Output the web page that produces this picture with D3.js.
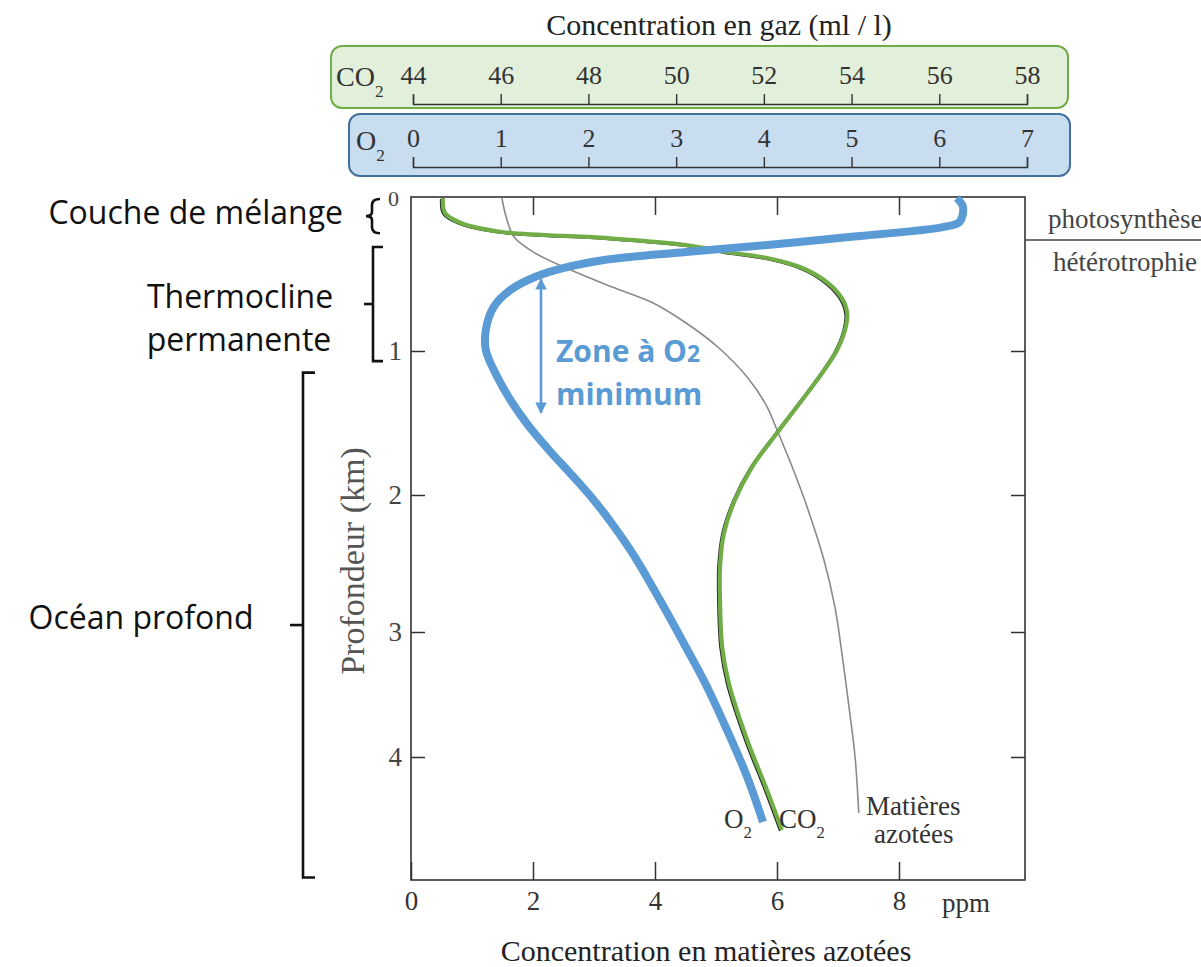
<!DOCTYPE html>
<html><head><meta charset="utf-8">
<script src="https://cdn.jsdelivr.net/npm/d3@7"></script>
<style>body{margin:0;background:#fff}</style>
</head><body><svg id="c" width="1201" height="967"></svg>
<script>
// ---- data ----
const co2Ticks = [44, 46, 48, 50, 52, 54, 56, 58];
const o2Ticks = [0, 1, 2, 3, 4, 5, 6, 7];
const ppmTicks = [0, 2, 4, 6, 8];
const depthTicks = [0, 1, 2, 3, 4];

// CO2 (ml/l) vs depth (km)
const co2Depth  = [0, 0.098, 0.163, 0.222, 0.261, 0.307, 0.353, 0.392, 0.451, 0.536, 0.647, 0.752, 0.863, 0.993, 1.153, 1.361, 1.569, 1.806, 2.036, 2.277, 2.526, 2.766, 3.12, 3.408, 3.864, 4.268, 4.593];
const co2Values = [44.68, 44.73, 45.09, 46.03, 48.35, 50.22, 51.14, 52.07, 52.82, 53.37, 53.76, 53.90, 53.85, 53.67, 53.33, 52.82, 52.30, 51.73, 51.34, 51.09, 51.00, 51.00, 51.05, 51.20, 51.62, 52.07, 52.41];

// O2 (ml/l) vs depth (km)
const o2Depth  = [0, 0.059, 0.157, 0.190, 0.255, 0.307, 0.353, 0.405, 0.458, 0.516, 0.601, 0.712, 0.863, 0.993, 1.167, 1.340, 1.514, 1.688, 1.861, 2.036, 2.219, 2.453, 2.818, 3.12, 3.408, 3.784, 4.163, 4.528];
const o2Values = [6.20, 6.27, 6.23, 6.04, 4.97, 4.04, 3.11, 2.18, 1.71, 1.39, 1.11, 0.92, 0.83, 0.83, 0.95, 1.11, 1.31, 1.55, 1.81, 2.06, 2.28, 2.53, 2.86, 3.11, 3.33, 3.58, 3.81, 3.99];

// Matières azotées (ppm) vs depth (km)
const nDepth  = [0, 0.124, 0.255, 0.359, 0.471, 0.582, 0.686, 0.817, 0.974, 1.181, 1.389, 1.528, 1.806, 2.109, 2.474, 2.818, 3.12, 3.6, 4.0, 4.455];
const nValues = [1.49, 1.56, 1.69, 2.03, 2.62, 3.30, 3.97, 4.51, 5.03, 5.51, 5.84, 5.98, 6.25, 6.51, 6.77, 6.95, 7.05, 7.18, 7.28, 7.34];

// ocean layers (km)
const layerNames = ["Couche de mélange", "Thermocline|permanente", "Océan profond"];
const layerTop = [0, 0.32, 1.15];
const layerBottom = [0.23, 1.07, 4.98];
const zoneLabel = ["Zone à O", "2", "minimum"];
const zoneRange = [0.53, 1.43];

// ---- drawing ----
const svg = d3.select("#c");
const serif = "'Liberation Serif','Times New Roman',serif";
const sans = "'Open Sans','Noto Sans',sans-serif";
const blue = "#5b9bd5", green = "#70ad47";
const fmt = d3.format("d");

const x = d3.scaleLinear().domain([0, 10]).range([411, 1021]);
const y = d3.scaleLinear().domain([0, 1, 2, 3, 4, 5]).range([198, 351, 495, 632, 757, 880]);
const xCO2 = d3.scaleLinear().domain([44, 58]).range([413, 1027]);
const xO2 = d3.scaleLinear().domain([0, 7]).range([413, 1027]);

const frame = {l: 411, t: 197, r: 1025, b: 880};

// gas boxes
svg.append("rect").attr("x", 331).attr("y", 46).attr("width", 737).attr("height", 62)
  .attr("rx", 11).attr("fill", "#e2efda").attr("stroke", green).attr("stroke-width", 2);
svg.append("rect").attr("x", 349).attr("y", 114).attr("width", 721).attr("height", 62)
  .attr("rx", 11).attr("fill", "#c8ddf0").attr("stroke", "#41719c").attr("stroke-width", 2);

svg.append("text").attr("x", 719).attr("y", 35).attr("text-anchor", "middle")
  .attr("font-family", serif).attr("font-size", 30).attr("fill", "#222")
  .text("Concentration en gaz (ml / l)");

function gasAxis(scale, ticks, yPos) {
  const g = svg.append("g").attr("transform", `translate(0,${yPos})`)
    .call(d3.axisTop(scale).tickValues(ticks).tickFormat(fmt).tickSize(10).tickSizeOuter(10).tickPadding(10));
  g.selectAll("path,line").attr("stroke", "#333").attr("stroke-width", 1.4);
  g.selectAll("text").attr("font-family", serif).attr("font-size", 26).attr("fill", "#333");
  return g;
}
gasAxis(xCO2, co2Ticks, 104);
gasAxis(xO2, o2Ticks, 167);

function chem(xp, yp, main, size, color) {
  const t = svg.append("text").attr("x", xp).attr("y", yp)
    .attr("font-family", serif).attr("font-size", size).attr("fill", color);
  t.append("tspan").text(main);
  t.append("tspan").attr("font-size", size * 0.62).attr("dy", size * 0.38).text("2");
  return t;
}
chem(336, 86, "CO", 28, "#333");
chem(356, 150, "O", 28, "#333");

// frame
svg.append("rect").attr("x", frame.l).attr("y", frame.t)
  .attr("width", frame.r - frame.l).attr("height", frame.b - frame.t)
  .attr("fill", "none").attr("stroke", "#333").attr("stroke-width", 1.6);

// bottom axis
const gb = svg.append("g").attr("transform", `translate(0,${frame.b})`)
  .call(d3.axisBottom(x).tickValues(ppmTicks).tickFormat(fmt).tickSize(-18).tickPadding(11));
gb.select(".domain").remove();
gb.selectAll("line").attr("stroke", "#333").attr("stroke-width", 1.5);
gb.selectAll("text").attr("font-family", serif).attr("font-size", 27).attr("fill", "#333");
svg.append("text").attr("x", 942).attr("y", 912).attr("font-family", serif)
  .attr("font-size", 27).attr("fill", "#333").text("ppm");
svg.append("text").attr("x", 706).attr("y", 961).attr("text-anchor", "middle")
  .attr("font-family", serif).attr("font-size", 30).attr("fill", "#222")
  .text("Concentration en matières azotées");

// top axis ticks (inside)
const gt = svg.append("g").attr("transform", `translate(0,${frame.t})`)
  .call(d3.axisTop(x).tickValues(ppmTicks.filter(d => d > 0)).tickSize(-18).tickFormat(""));
gt.select(".domain").remove();
gt.selectAll("line").attr("stroke", "#333").attr("stroke-width", 1.5);

// left depth axis
const gl = svg.append("g").attr("transform", `translate(${frame.l},0)`)
  .call(d3.axisLeft(y).tickValues(depthTicks).tickFormat(fmt).tickSize(-14).tickPadding(9));
gl.select(".domain").remove();
gl.selectAll("line").attr("stroke", "#333").attr("stroke-width", 1.5);
gl.selectAll("text").attr("font-family", serif).attr("font-size", 27).attr("fill", "#444");
gl.selectAll(".tick").filter(d => d === 0).select("text").attr("font-size", 22).attr("dy", "0.35em").attr("x", -12);
gl.selectAll(".tick").filter(d => d === 0).select("line").remove();

// right axis ticks
const gr = svg.append("g").attr("transform", `translate(${frame.r},0)`)
  .call(d3.axisRight(y).tickValues(depthTicks.filter(d => d > 0)).tickSize(-14).tickFormat(""));
gr.select(".domain").remove();
gr.selectAll("line").attr("stroke", "#333").attr("stroke-width", 1.5);

svg.append("text").attr("transform", `translate(364,561) rotate(-90)`)
  .attr("text-anchor", "middle").attr("font-family", serif).attr("font-size", 34)
  .attr("fill", "#555").text("Profondeur (km)");

// photosynthèse / hétérotrophie
svg.append("line").attr("x1", frame.r).attr("x2", 1201).attr("y1", 240).attr("y2", 240)
  .attr("stroke", "#444").attr("stroke-width", 1.4);
svg.append("text").attr("x", 1048).attr("y", 228).attr("font-family", serif)
  .attr("font-size", 27).attr("fill", "#444").text("photosynthèse");
svg.append("text").attr("x", 1053).attr("y", 271).attr("font-family", serif)
  .attr("font-size", 27).attr("fill", "#444").text("hétérotrophie");

// curves
const curve = d3.curveCatmullRom.alpha(0.5);
const lineN = d3.line().x((d, i) => x(nValues[i])).y((d, i) => y(d)).curve(curve);
const lineCO2 = d3.line().x((d, i) => xCO2(co2Values[i])).y((d, i) => y(d)).curve(curve);
const lineO2 = d3.line().x((d, i) => xO2(o2Values[i])).y((d, i) => y(d)).curve(curve);

svg.append("path").attr("d", lineN(nDepth)).attr("fill", "none")
  .attr("stroke", "#8a8a8a").attr("stroke-width", 1.6);
svg.append("path").attr("d", lineCO2(co2Depth)).attr("fill", "none")
  .attr("transform", "translate(-2,1)").attr("stroke", "#222").attr("stroke-width", 1.8);
svg.append("path").attr("d", lineCO2(co2Depth)).attr("fill", "none")
  .attr("stroke", green).attr("stroke-width", 4.2).attr("stroke-linecap", "butt");
svg.append("path").attr("d", lineO2(o2Depth)).attr("fill", "none")
  .attr("stroke", blue).attr("stroke-width", 8).attr("stroke-linecap", "butt")
  .attr("stroke-linejoin", "round");

// curve labels
chem(724, 828, "O", 27, "#333");
chem(779, 828, "CO", 27, "#333");
svg.append("text").attr("x", 866).attr("y", 815).attr("font-family", serif)
  .attr("font-size", 27).attr("fill", "#333").text("Matières");
svg.append("text").attr("x", 874).attr("y", 843).attr("font-family", serif)
  .attr("font-size", 27).attr("fill", "#333").text("azotées");

// zone à O2 minimum
const defs = svg.append("defs");
defs.append("marker").attr("id", "ah").attr("viewBox", "0 0 10 10").attr("refX", 9).attr("refY", 5)
  .attr("markerWidth", 5).attr("markerHeight", 4.4).attr("orient", "auto-start-reverse")
  .attr("markerUnits", "strokeWidth")
  .append("path").attr("d", "M0,0L10,5L0,10Z").attr("fill", blue);
svg.append("line").attr("x1", 541).attr("x2", 541).attr("y1", y(zoneRange[0])).attr("y2", y(zoneRange[1]))
  .attr("stroke", blue).attr("stroke-width", 2.6)
  .attr("marker-start", "url(#ah)").attr("marker-end", "url(#ah)");
const zt = svg.append("text").attr("x", 556).attr("y", 362).attr("font-family", sans)
  .attr("font-weight", 700).attr("font-size", 30).attr("fill", blue);
zt.append("tspan").text(zoneLabel[0]);
zt.append("tspan").attr("font-size", 23).text(zoneLabel[1]);
svg.append("text").attr("x", 556).attr("y", 405).attr("font-family", sans)
  .attr("font-weight", 700).attr("font-size", 30).attr("fill", blue).text(zoneLabel[2]);

// layer labels + brackets
const bk = svg.append("g").attr("fill", "none").attr("stroke", "#111").attr("stroke-width", 2.6);
{
  const t = y(layerTop[0]) + 1, b = y(layerBottom[0]), m = (t + b) / 2, xr = 380, xl = 372;
  bk.append("path").attr("d",
    `M${xr},${t} Q${xl},${t} ${xl},${t + 6} L${xl},${m - 4} Q${xl},${m} ${xl - 6},${m}` +
    ` Q${xl},${m} ${xl},${m + 4} L${xl},${b - 6} Q${xl},${b} ${xr},${b}`);
  svg.append("text").attr("x", 343).attr("y", 224).attr("text-anchor", "end")
    .attr("font-family", sans).attr("font-size", 32).attr("fill", "#111").text(layerNames[0]);
}
function squareBracket(xv, t, b, endLen, midLen) {
  const m = (t + b) / 2;
  bk.append("path").attr("d", `M${xv + endLen},${t} H${xv} V${b} H${xv + endLen}`);
  bk.append("path").attr("d", `M${xv},${m} H${xv - midLen}`);
}
squareBracket(373, y(layerTop[1]), y(layerBottom[1]), 10, 9);
squareBracket(303, y(layerTop[2]), y(layerBottom[2]), 12, 13);
{
  const parts = layerNames[1].split("|");
  svg.append("text").attr("x", 240).attr("y", 308).attr("text-anchor", "middle")
    .attr("font-family", sans).attr("font-size", 32).attr("fill", "#111").text(parts[0]);
  svg.append("text").attr("x", 239).attr("y", 351).attr("text-anchor", "middle")
    .attr("font-family", sans).attr("font-size", 32).attr("fill", "#111").text(parts[1]);
  svg.append("text").attr("x", 141).attr("y", 629).attr("text-anchor", "middle")
    .attr("font-family", sans).attr("font-size", 32).attr("fill", "#111").text(layerNames[2]);
}
</script></body></html>
